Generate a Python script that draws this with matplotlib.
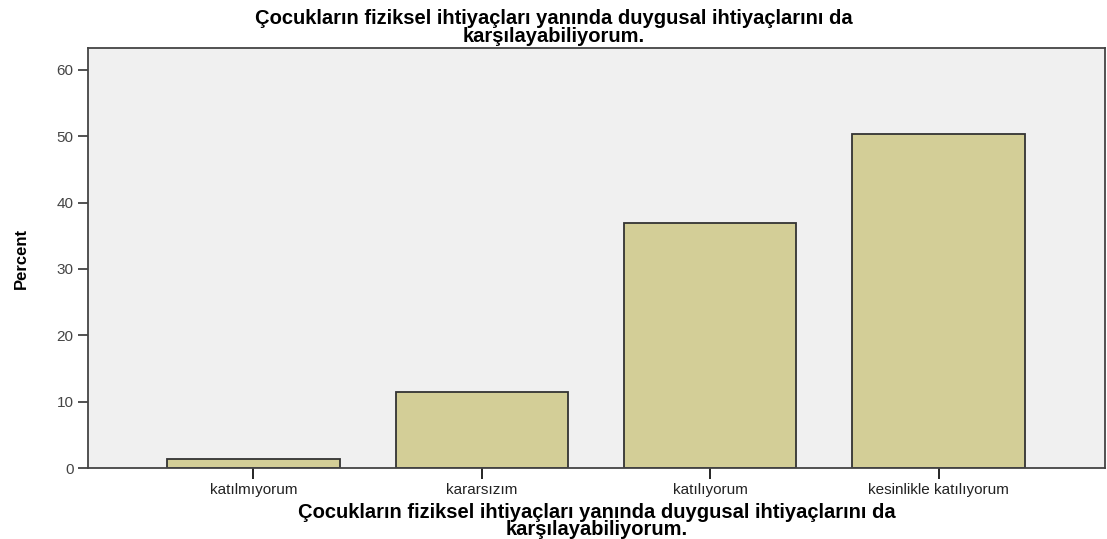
import matplotlib.pyplot as plt

plt.rcParams['font.family'] = ['Liberation Sans', 'DejaVu Sans']

categories = ['katılmıyorum', 'kararsızım', 'katılıyorum', 'kesinlikle katılıyorum']
percent = [1.4, 11.5, 36.9, 50.3]
yticks = [0, 10, 20, 30, 40, 50, 60]
title = 'Çocukların fiziksel ihtiyaçları yanında duygusal ihtiyaçlarını da\nkarşılayabiliyorum.'

fig = plt.figure(figsize=(11.07, 5.39), dpi=100)
ax = fig.add_axes([0.0795, 0.1317, 0.9185, 0.7793])
ax.set_facecolor('#f0f0f0')

x = range(len(categories))
ax.bar(x, percent, width=0.755, color='#d3ce97', edgecolor='#333333', linewidth=1.3, zorder=2)

ax.set_xlim(-0.724, 3.728)
ax.set_ylim(0, 63.3)
ax.set_yticks(yticks)
ax.set_xticks(list(x))
ax.set_xticklabels(categories, fontsize=11, color='#222222')
ax.tick_params(axis='y', labelsize=11, colors='#333333', length=7, width=1.2, labelcolor='#444444')
ax.tick_params(axis='x', length=8, width=1.2, pad=3)
for s in ax.spines.values():
    s.set_color('#444444')
    s.set_linewidth(1.3)

ax.set_ylabel('Percent', fontsize=12, fontweight='bold', labelpad=20)
ax.set_xlabel(title, fontsize=14.5, fontweight='bold', labelpad=4, linespacing=0.9)
fig.text(0.5, 0.983, title, fontsize=14.5, fontweight='bold', ha='center', va='top', linespacing=0.9)

plt.savefig('out.png', dpi=100)
